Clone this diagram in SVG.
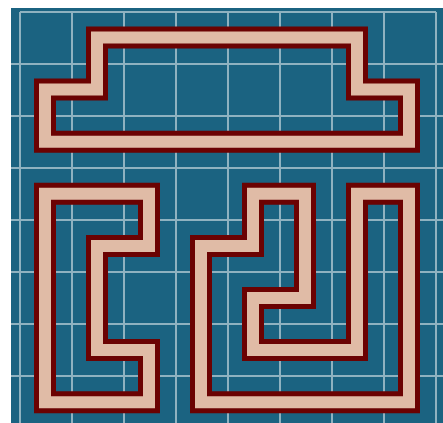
<svg xmlns="http://www.w3.org/2000/svg" width="443" height="423" viewBox="0 0 443 423">
<style>
.bg{fill:#1b6381}
.grid{stroke:#8fb2c0;stroke-width:2;fill:none}
.outline{fill:none;stroke:#6b0202;stroke-width:22;stroke-linejoin:miter}
.inner{fill:none;stroke:#e0bba6;stroke-width:12;stroke-linejoin:miter}
</style>
<defs>
<path id="p1" d="M97,37.5 H357 V89.6 H409 V141.7 H45 V89.6 H97 Z"/>
<path id="p2" d="M45,193.8 H149 V245.9 H97 V350.1 H149 V402.2 H45 Z"/>
<path id="p3" d="M201,245.9 H253 V193.8 H305 V298 H253 V350.1 H357 V193.8 H409 V402.2 H201 Z"/>
</defs>
<rect width="443" height="423" fill="#ffffff"/>
<rect class="bg" x="11" y="8" width="432" height="415"/>
<g id="grid" class="grid">
<path d="M20,12 H436"/>
<path d="M11,64 H443 M11,116 H443 M11,168 H443 M11,220 H443 M11,272 H443 M11,324 H443 M11,376 H443"/>
<path d="M20,12 V423 M72,12 V423 M124,12 V423 M176,12 V423 M228,12 V423 M280,12 V423 M332,12 V423 M384,12 V423 M436,12 V423"/>
</g>
<g id="shape-top">
<use href="#p1" class="outline"/>
<use href="#p1" class="inner"/>
</g>
<g id="shape-bottom-left">
<use href="#p2" class="outline"/>
<use href="#p2" class="inner"/>
</g>
<g id="shape-bottom-right">
<use href="#p3" class="outline"/>
<use href="#p3" class="inner"/>
</g>
<g id="connectors"/>
</svg>
